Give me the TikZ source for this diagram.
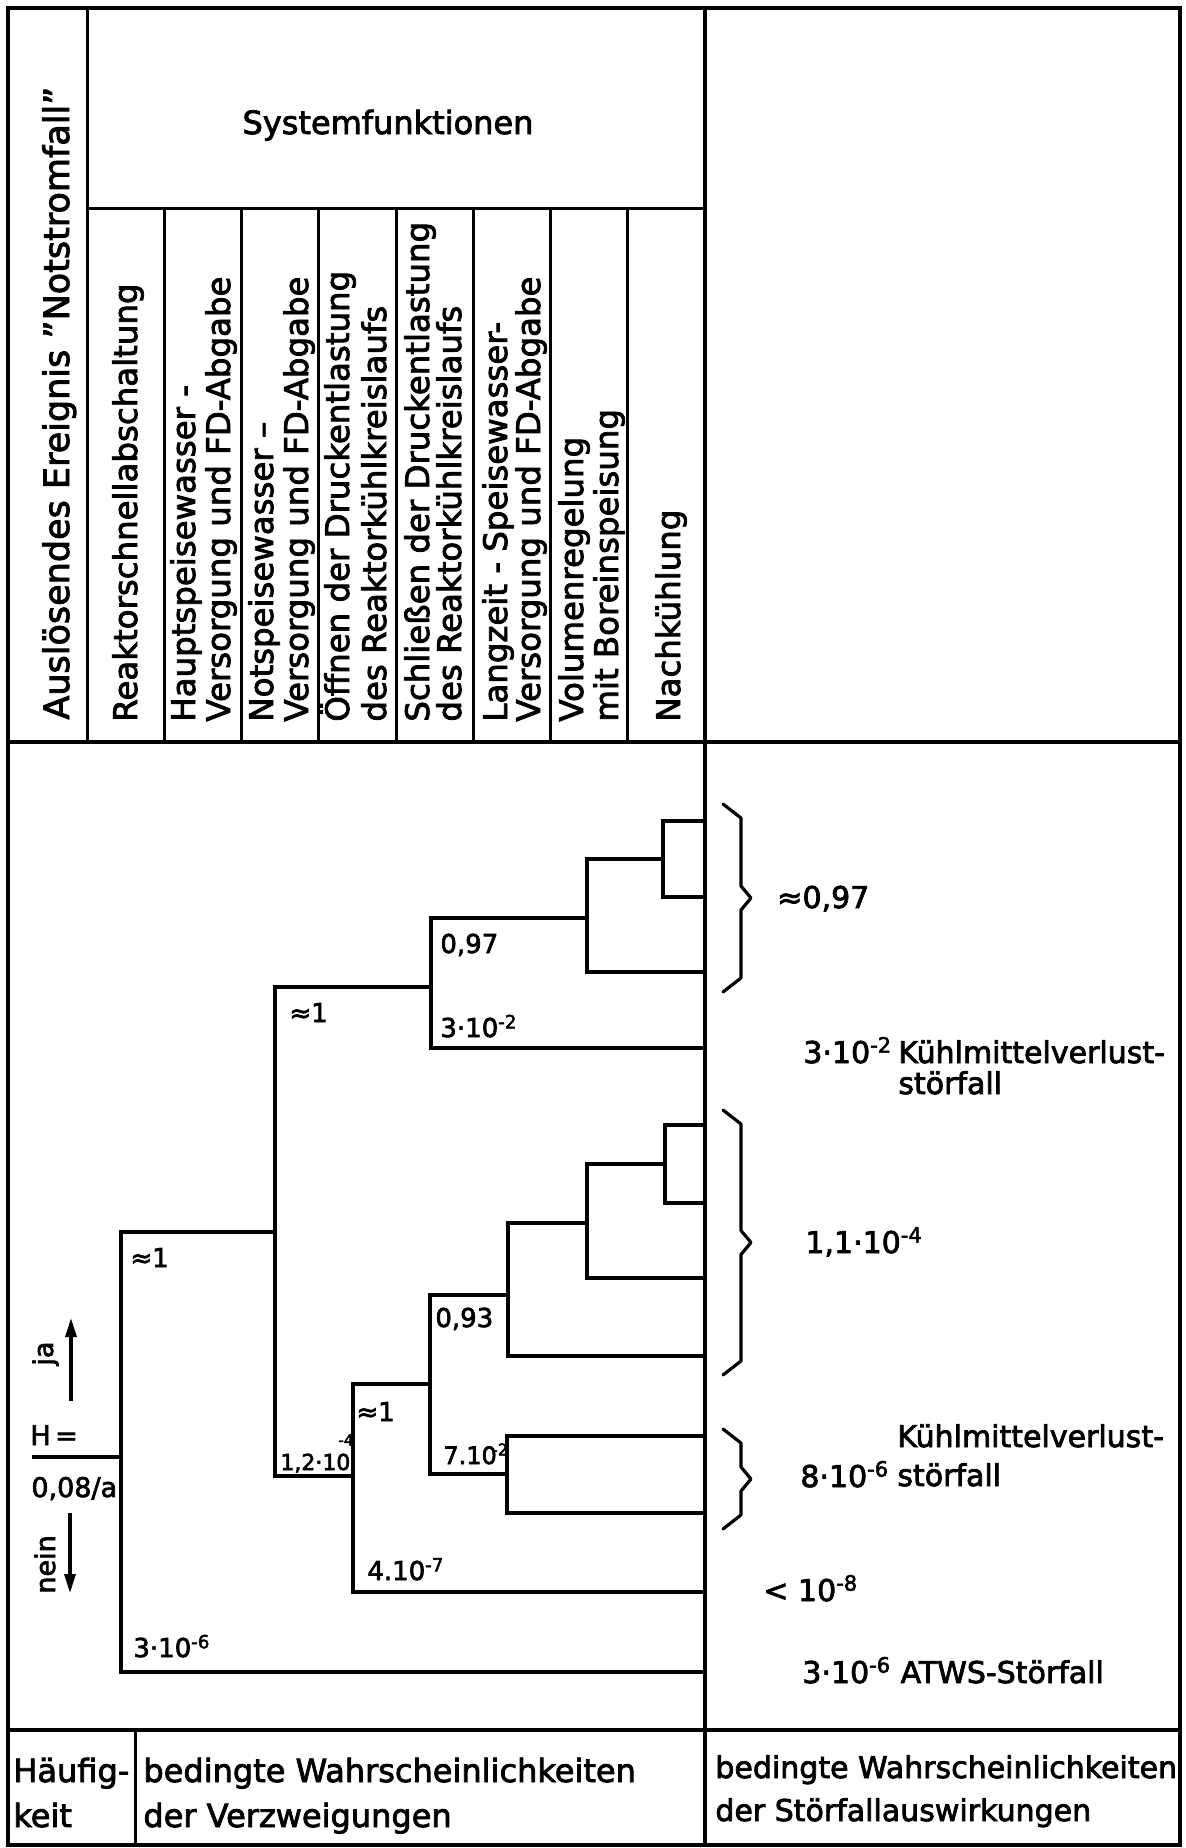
\documentclass[tikz,border=0pt]{standalone}
\usepackage{fontspec}
\setmainfont{DejaVu Sans}[FakeBold=2.5]
\usetikzlibrary{arrows.meta}

\newcommand{\expo}[1]{\textsuperscript{#1}}

\begin{document}
\begin{tikzpicture}[
  x=.5pt,y=-.5pt,>={Stealth[length=9.5pt,width=5.5pt,inset=0pt]},
  frameline/.style={black,line width=2pt},
  colline/.style={black,line width=1.5pt},
  branch/.style={black,line width=2.2pt,line join=miter},
  curly/.style={black,line width=1.6pt,line join=round,line cap=round},
  headtxt/.style={rotate=90,anchor=base west,inner sep=0pt,font=\fontsize{16.2}{19}\selectfont},
  treelbl/.style={anchor=base west,inner sep=0pt,font=\fontsize{13}{15}\selectfont},
  reslbl/.style={anchor=base west,inner sep=0pt,font=\fontsize{15}{17}\selectfont},
  foottxt/.style={anchor=base west,inner sep=0pt,font=\fontsize{16}{19}\selectfont}
]
\fill[white] (0,0) rectangle (1186,1848);
\useasboundingbox (0,0) rectangle (1186,1848);
% table frame
\draw[frameline] (8,8) rectangle (1180,1845);
\draw[frameline] (705,8) -- (705,1845);
\draw[frameline] (8,742) -- (1180,742);
\draw[frameline] (8,1730) -- (1180,1730);
\draw[colline] (87,8) -- (87,742);
\draw[colline] (87,208) -- (705,208);
\foreach \cx in {164,241,318,396,473,550,627}
  \draw[colline] (\cx,208) -- (\cx,742);
\draw[colline] (135,1730) -- (135,1845);

% headings
\node[headtxt,font=\fontsize{17.5}{19}\selectfont] (ereignis) at (69,720)
  {Auslösendes Ereignis "Notstromfall"};
\node[anchor=base,inner sep=0pt,font=\fontsize{16}{19}\selectfont] (sysfkt) at (388,134)
  {Systemfunktionen};
\foreach \bx/\txt [count=\i] in {137/Reaktorschnellabschaltung,
    195/Hauptspeisewasser -,230/Versorgung und FD-Abgabe,
    273/Notspeisewasser –,308/Versorgung und FD-Abgabe,
    349/Öffnen der Druckentlastung,386/des Reaktorkühlkreislaufs,
    429/Schließen der Druckentlastung,461/des Reaktorkühlkreislaufs,
    507/Langzeit - Speisewasser-,540/Versorgung und FD-Abgabe,
    583/Volumenregelung,618/mit Boreinspeisung,680/Nachkühlung}
  \node[headtxt] (fkt\i) at (\bx,722) {\txt};

% event tree: branch points and end points
\coordinate (h0) at (32,1457);
\coordinate (root) at (121,1457);
\coordinate (n2) at (275,1232);
\coordinate (n3) at (431,987);
\coordinate (n4) at (353,1476);
\coordinate (n5) at (587,918);
\coordinate (n6) at (663,859);
\coordinate (n7) at (430,1384);
\coordinate (n8) at (508,1295);
\coordinate (n9) at (507,1474);
\coordinate (n10) at (587,1223);
\coordinate (n11) at (665,1164);
\foreach \ly [count=\j] in {821,897,972,1048,1125,1203,1278,1356,1436,1513,1592,1672}
  \coordinate (l\j) at (705,\ly);

\draw[branch] (h0) -- (root);
\draw[branch] (n2) -| (root) |- (l12);
\draw[branch] (n3) -| (n2) |- (n4);
\draw[branch] (n5) -| (n3) |- (l4);
\draw[branch] (n6) -| (n5) |- (l3);
\draw[branch] (l1) -| (n6) |- (l2);
\draw[branch] (n7) -| (n4) |- (l11);
\draw[branch] (n8) -| (n7) |- (n9);
\draw[branch] (n10) -| (n8) |- (l8);
\draw[branch] (n11) -| (n10) |- (l7);
\draw[branch] (l5) -| (n11) |- (l6);
\draw[branch] (l9) -| (n9) |- (l10);

% branch probabilities
\node[treelbl] (pr1) at (130,1267) {≈1};
\node[treelbl] (pr2) at (133,1657) {3·10\expo{-6}};
\node[treelbl] (pr3) at (289,1022) {≈1};
\node[treelbl,font=\fontsize{11}{13}\selectfont] (pr4) at (280,1470)
  {1,2·10\kern-.55em\raisebox{.75em}{\expo{-4}}};
\node[treelbl] (pr5) at (440,953) {0,97};
\node[treelbl] (pr6) at (440,1037) {3·10\expo{-2}};
\node[treelbl] (pr7) at (356,1421) {≈1};
\node[treelbl] (pr8) at (367,1580) {4.10\expo{-7}};
\node[treelbl] (pr9) at (435,1327) {0,93};
\node[treelbl,font=\fontsize{12}{14}\selectfont] (pr10) at (443,1464) {7.10\kern-.2em\expo{-2}};

% frequency of the initiating event
\node[treelbl,font=\fontsize{13.5}{15}\selectfont] (hval) at (30,1445) {H\,=};
\node[treelbl,font=\fontsize{13.5}{15}\selectfont] (hunit) at (31,1497) {0,08/a};
\coordinate (ja0) at (71,1401);
\coordinate (ja1) at (71,1318);
\coordinate (nein0) at (70,1513);
\coordinate (nein1) at (70,1593);
\draw[->,line width=1.6pt] (ja0) -- (ja1);
\draw[->,line width=1.6pt] (nein0) -- (nein1);
\node[headtxt,font=\fontsize{13.5}{15}\selectfont] (ja) at (53,1366) {ja};
\node[headtxt,font=\fontsize{13.5}{15}\selectfont] (nein) at (55,1594) {nein};

% grouping of the end states
\foreach \t/\b in {804/992,1110/1375,1429/1529} {
  \pgfmathsetmacro\m{(\t+\b)/2}
  \draw[curly] (723,\t) -- (741,{\t+14}) -- (741,{\m-12}) -- (751,\m)
    -- (741,{\m+12}) -- (741,{\b-14}) -- (723,\b);
}
\node[reslbl] (res1) at (777,908) {≈0,97};
\node[reslbl] (res2) at (803,1063) {3·10\expo{-2}};
\node[reslbl,align=left,font=\fontsize{15}{15.5}\selectfont] (res2t) at (898,1094)
  {Kühlmittelverlust-\\störfall};
\node[reslbl] (res3) at (805,1253) {1,1·10\expo{-4}};
\node[reslbl,align=left,font=\fontsize{15}{19.5}\selectfont] (res4t) at (897,1486)
  {Kühlmittelverlust-\\störfall};
\node[reslbl] (res4) at (800,1487) {8·10\expo{-6}};
\node[reslbl] (res5) at (763,1601) {< 10\expo{-8}};
\node[reslbl] (res6) at (802,1683) {3·10\expo{-6} ATWS-Störfall};

% bottom row
\node[foottxt] (hf1) at (13,1782) {Häufig-};
\node[foottxt] (hf2) at (13,1827) {keit};
\node[foottxt] (bw1) at (143,1782) {bedingte Wahrscheinlichkeiten};
\node[foottxt] (bw2) at (143,1827) {der Verzweigungen};
\node[reslbl] (sw1) at (715,1778) {bedingte Wahrscheinlichkeiten};
\node[reslbl] (sw2) at (715,1821) {der Störfallauswirkungen};
\end{tikzpicture}
\end{document}
